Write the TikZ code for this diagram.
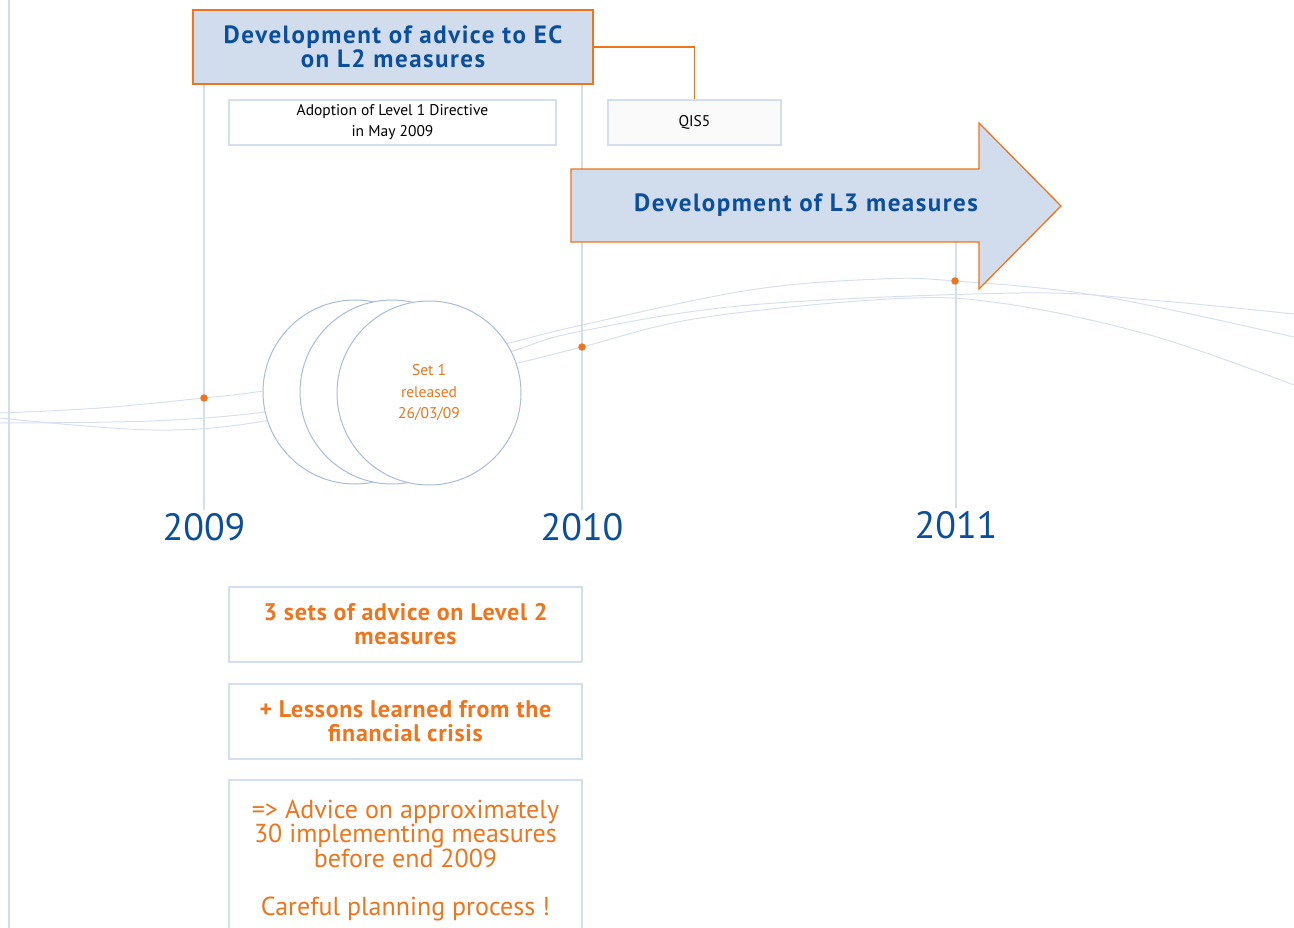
\documentclass[tikz,border=0pt]{standalone}
\usepackage{fontspec}
\setmainfont{PT Sans}
\newfontfamily\headfont[LetterSpace=6]{PT Sans}
\newfontfamily\notefont[LetterSpace=3]{PT Sans}
\usetikzlibrary{calc,positioning}

\definecolor{darkblue}{HTML}{0B4F9C}
\definecolor{signal}{HTML}{EF741C}
\definecolor{paleblue}{HTML}{D1DDEC}
\definecolor{rule}{HTML}{D3DEEE}
\definecolor{thread}{HTML}{D6E0EE}
\definecolor{ring}{HTML}{A8BDDC}

\tikzstyle{phase}=[draw=signal, fill=paleblue, line width=1.3pt]
\tikzstyle{phasetext}=[text=darkblue, align=center,
  font=\headfont\fontsize{25}{24}\selectfont\bfseries]
\tikzstyle{milestone}=[draw=rule, line width=1.3pt, fill=white, align=center,
  font=\fontsize{15.5}{21}\selectfont, minimum height=45pt]
\tikzstyle{note}=[draw=rule, line width=1.3pt, text=signal, align=center,
  minimum width=353pt, minimum height=75pt]
\tikzstyle{yearline}=[draw=rule, line width=1.1pt]
\tikzstyle{strand}=[draw=thread, line width=1pt]
\tikzstyle{advice}=[draw=ring, fill=white, circle, minimum size=184pt,
  line width=1pt, inner sep=0pt]
\tikzstyle{event}=[fill=signal, circle, inner sep=0pt, minimum size=7.5pt]
\tikzstyle{yearlabel}=[text=darkblue, font=\fontsize{38}{38}\selectfont]
\tikzstyle{link}=[draw=signal, line width=1.3pt]
\newcommand{\yearnode}[1]{node (y#1) [yearlabel] {#1}}

\begin{document}
\begin{tikzpicture}[x=1pt,y=-1pt]
  \useasboundingbox (0,0) rectangle (1294,928);
  \clip (0,0) rectangle (1294,928);

  % Strands of the timeline
  \path [strand] plot [smooth, tension=0.6] coordinates {(0,413) (100,408)
    (204,398) (263,391) (400,370) (509,343) (582,325) (750,290) (880,279)
    (955,281) (1100,296) (1294,337)};
  \path [strand] plot [smooth, tension=0.6] coordinates {(0,418) (153,430)
    (265,421) (400,390) (513,351) (582,331) (750,305) (1021,293)
    (1150,300) (1294,314)};
  \path [strand] plot [smooth, tension=0.6] coordinates {(0,423) (150,421)
    (265,412) (400,390) (518,363) (582,347) (700,318) (890,299) (1000,303)
    (1150,335) (1294,385)};

  % Years
  \path (204,527) \yearnode{2009};
  \path (582,527) \yearnode{2010};
  \path (956,525) \yearnode{2011};

  % Top elements
  \node (l2) [phase, phasetext, minimum width=400pt, minimum height=74pt]
    at (393,47) {Development of advice to EC\\on L2 measures};
  \node (adopt) [milestone, minimum width=327pt, text depth=4pt]
    at (392.5,122.5) {Adoption of Level 1 Directive\\in May 2009};
  \node (qis) [milestone, fill=black!2, minimum width=173pt, text depth=4pt]
    at (694.5,122.5) {QIS5};
  \path [link] (l2.east) -| (qis.north);

  % Year lines
  \draw [yearline] (9,0) -- (9,928);
  \draw [yearline] (y2009.north) -- (y2009.north |- l2.south);
  \draw [yearline] (y2010.north) -- (y2010.north |- l2.south);
  \draw [yearline] (y2011.north) -- (y2011.north |- 0,206);

  % L3 arrow
  \path [phase] (571,169) -- (979,169) -- (979,123) -- (1061,206)
    -- (979,289) -- (979,242) -- (571,242) -- cycle;
  \node (l3) [phasetext] at (806,205) {Development of L3 measures};

  % Sets of advice
  \node (set3) [advice] at (355,392) {};
  \node (set2) [advice] at (392,392) {};
  \node (set1) [advice, text=signal, align=center,
    font=\fontsize{15.5}{21.5}\selectfont] at (429,393)
    {Set 1\\released\\26/03/09};

  % Events
  \node (e2009) [event] at (204,398) {};
  \node (e2010) [event] at (582,347) {};
  \node (e2011) [event] at (955,281) {};

  % Notes
  \node (n1) [note, font=\notefont\fontsize{24}{24}\selectfont\bfseries]
    at (405.5,624.5) {3 sets of advice on Level 2\\measures};
  \node (n2) [note, font=\notefont\fontsize{24}{24}\selectfont\bfseries]
    at (405.5,721.5) {+ Lessons learned from the\\financial crisis};
  \node (n3) [note, minimum height=170pt, font=\fontsize{26}{24}\selectfont]
    at (405.5,865) {};
  \node [text=signal, align=center, font=\fontsize{26}{24}\selectfont,
    anchor=north] at (n3.north) [yshift=-17pt]
    {=> Advice on approximately\\30 implementing measures\\
    before end 2009\\[24pt]Careful planning process !};

\end{tikzpicture}
\end{document}
